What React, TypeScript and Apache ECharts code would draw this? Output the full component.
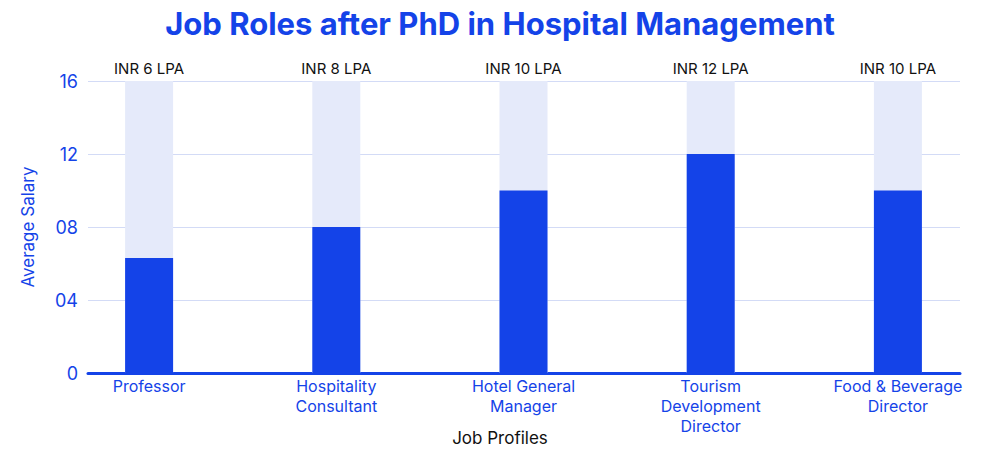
import React, { useEffect, useRef } from "react";
import * as echarts from "echarts";

const categories = ["Professor", "Hospitality\nConsultant", "Hotel General\nManager", "Tourism\nDevelopment\nDirector", "Food & Beverage\nDirector"];
const salaries = [6.3, 8, 10, 12, 10];
const topLabels = ["INR 6 LPA", "INR 8 LPA", "INR 10 LPA", "INR 12 LPA", "INR 10 LPA"];
const yMax = 16;
const yTickInterval = 4;

const BLUE = "#1443e8";
const FONT = "Inter, 'Open Sans', sans-serif";

export default function App() {
  const ref = useRef<HTMLDivElement>(null);
  useEffect(() => {
    if (!ref.current) return;
    const chart = echarts.init(ref.current, null, { renderer: "svg" });
    chart.setOption({
      animation: false,
      textStyle: { fontFamily: FONT },
      title: {
        text: "Job Roles after PhD in Hospital Management",
        left: "center",
        top: 3,
        textStyle: { color: BLUE, fontSize: 31, fontWeight: "bold", fontFamily: FONT },
      },
      graphic: [
        {
          type: "text",
          left: "center",
          top: 429,
          style: { text: "Job Profiles", fill: "#111", fontSize: 17, fontFamily: FONT },
        },
      ],
      grid: [
        { left: 88, right: 40, top: 81, bottom: 88 },
        { left: 55.5, right: 8.5, top: 81, bottom: 88 },
      ],
      xAxis: [
        {
          type: "category",
          gridIndex: 0,
          data: categories,
          axisLine: { show: true, lineStyle: { color: BLUE, width: 3 } },
          axisTick: { show: false },
          axisLabel: { show: false },
        },
        {
          type: "category",
          gridIndex: 1,
          data: categories,
          axisLine: { show: false },
          axisTick: { show: false },
          axisLabel: { color: BLUE, fontSize: 16, lineHeight: 20, margin: 3, fontFamily: FONT },
        },
      ],
      yAxis: [
        {
          type: "value",
          gridIndex: 0,
          min: 0,
          max: yMax,
          interval: yTickInterval,
          name: "Average Salary",
          nameLocation: "middle",
          nameGap: 52,
          nameTextStyle: { color: BLUE, fontSize: 17, fontFamily: FONT },
          axisLine: { show: false },
          axisTick: { show: false },
          axisLabel: {
            color: BLUE,
            fontSize: 18,
            margin: 10,
            fontFamily: FONT,
            formatter: (v: number) => (v === 0 ? "0" : String(v).padStart(2, "0")),
          },
          splitLine: { lineStyle: { color: "#d3dbf6", width: 1 } },
        },
        {
          type: "value",
          gridIndex: 1,
          min: 0,
          max: yMax,
          interval: yTickInterval,
          show: false,
          splitLine: { show: false },
        },
      ],
      series: [
        {
          type: "bar",
          xAxisIndex: 1,
          yAxisIndex: 1,
          data: salaries,
          barWidth: 48,
          itemStyle: { color: BLUE },
          showBackground: true,
          backgroundStyle: { color: "#e5eafa" },
          z: 3,
        },
        {
          type: "bar",
          xAxisIndex: 1,
          yAxisIndex: 1,
          data: salaries.map(() => yMax),
          barWidth: 48,
          barGap: "-100%",
          itemStyle: { color: "rgba(0,0,0,0)" },
          silent: true,
          label: {
            show: true,
            position: "top",
            distance: 5,
            color: "#111",
            fontSize: 15,
            fontFamily: FONT,
            formatter: (p: any) => topLabels[p.dataIndex],
          },
          z: 1,
        },
      ],
    });
    return () => chart.dispose();
  }, []);
  return <div ref={ref} style={{ width: 1000, height: 461, position: "absolute", left: 0, top: 0 }} />;
}
